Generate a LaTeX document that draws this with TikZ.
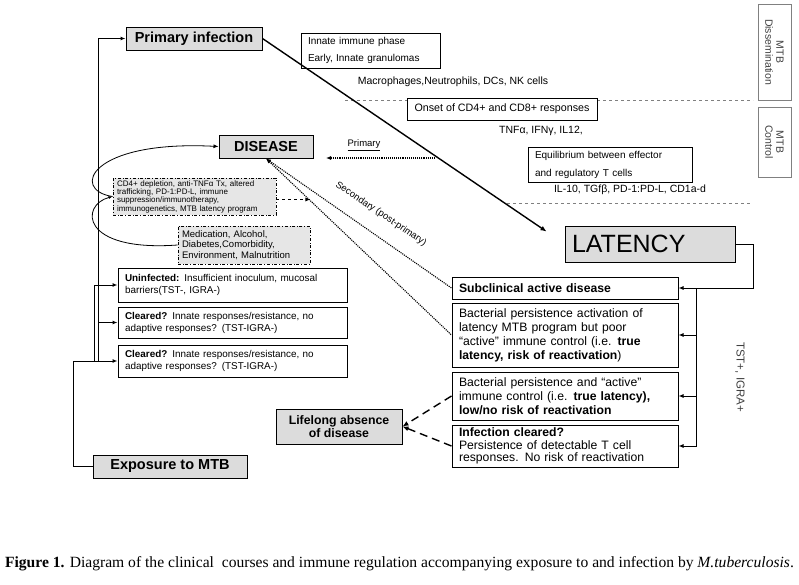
\documentclass[tikz,border=0pt]{standalone}
\usepackage{fontspec}
\setmainfont{Liberation Sans}
\newfontfamily\capfont{Liberation Serif}
\usetikzlibrary{arrows.meta,calc}
\definecolor{boxgray}{HTML}{DCDCDC}
\definecolor{factgray}{HTML}{E6E6E6}
\begin{document}
\begin{tikzpicture}[x=1pt,y=-1pt,
  gbox/.style={draw,line width=1pt,fill=boxgray,inner sep=0pt,font=\bfseries\fontsize{14.5}{16}\selectfont},
  wbox/.style={draw,line width=1pt,fill=white,align=left,inner xsep=7pt,inner ysep=0pt},
  lbox/.style={wbox,text width=215pt,minimum width=229pt,font=\fontsize{9.9}{12}\selectfont},
  rbox/.style={wbox,text width=212pt,minimum width=226pt,font=\fontsize{12.2}{14}\selectfont},
  fbox/.style={draw,dash dot,line width=.9pt,fill=factgray,align=left,inner xsep=4pt,inner ysep=0pt},
  vbox/.style={draw=gray,line width=.8pt,rotate=-90,align=center,inner sep=0pt,minimum height=33pt,
    text=black!75,font=\fontsize{10.5}{11}\selectfont},
  sepline/.style={gray,dashed,line width=.6pt},
  dotline/.style={densely dotted,line width=1.1pt},
  link/.style={line width=1pt,-{Latex[length=5pt,width=4pt]}},
  plain/.style={inner sep=0pt,font=\fontsize{10.5}{12}\selectfont}]
\useasboundingbox (0,0) rectangle (799,584);

% separators between the phases
\draw[sepline] (345,100) -- (753,100);
\draw[sepline] (507,203) -- (752,203);

% immune phases
\node[wbox,text width=125pt,minimum height=35pt,font=\fontsize{10}{17}\selectfont] (innate) at (370.5,50.5)
  {Innate immune phase\\Early, Innate granulomas};
\node[plain] (macro) at (453,82) {Macrophages,Neutrophils, DCs, NK cells};
\node[wbox,minimum width=190pt,minimum height=22pt,font=\fontsize{10.7}{12}\selectfont] (onset) at (502,109)
  {Onset of CD4+ and CD8+ responses};
\node[plain] (tnf) at (541,131) {TNFα, IFNγ, IL12,};
\node[wbox,text width=150pt,minimum height=35pt,font=\fontsize{10}{18}\selectfont] (equil) at (610,164.5)
  {Equilibrium between effector\\and regulatory T cells};
\node[plain] (il) at (630,190) {IL-10, TGfβ, PD-1:PD-L, CD1a-d};
\node[vbox,minimum width=96pt] (dissem) at (774.5,52) {MTB\\Dissemination};
\node[vbox,minimum width=70pt] (control) at (774.5,142) {MTB\\Control};

% main states
\node[gbox,minimum width=136pt,minimum height=23pt] (prim) at (194,38.5) {Primary infection};
\node[gbox,minimum width=94pt,minimum height=23pt] (dis) at (266,146.5) {DISEASE};
\node[gbox,minimum width=154pt,minimum height=23pt] (expo) at (170,466.5) {Exposure to MTB};
\node[gbox,text width=156pt,inner xsep=7pt,minimum height=36pt,align=left,font=\fontsize{25}{27}\selectfont] (lat) at (650,244) {LATENCY};
\node[gbox,minimum width=126pt,minimum height=35pt,align=center,font=\bfseries\fontsize{12.3}{13.5}\selectfont] (life) at (339,426.5)
  {Lifelong absence\\of disease};

% risk factors
\node[fbox,text width=155pt,minimum height=37pt,font=\fontsize{8}{8.3}\selectfont] (cd4) at (194.5,196.5)
  {CD4+ depletion, anti-TNFα Tx, altered\\trafficking, PD-1:PD-L, immune\\suppression/immunotherapy,\\immunogenetics, MTB latency program};
\node[fbox,text width=124pt,minimum height=38pt,font=\fontsize{9.5}{10.5}\selectfont] (med) at (244,245)
  {Medication, Alcohol,\\Diabetes,Comorbidity,\\Environment, Malnutrition};

% outcomes after exposure
\node[lbox,minimum height=34pt] (unin) at (232.5,285)
  {\textbf{Uninfected:} Insufficient inoculum, mucosal\\barriers(TST-, IGRA-)};
\node[lbox,minimum height=31pt] (cl1) at (232.5,322.5)
  {\textbf{Cleared?} Innate responses/resistance, no\\adaptive responses? (TST-IGRA-)};
\node[lbox,minimum height=32pt] (cl2) at (232.5,361)
  {\textbf{Cleared?} Innate responses/resistance, no\\adaptive responses? (TST-IGRA-)};

% outcomes of latency
\node[rbox,minimum height=22pt] (sub) at (565,288) {\textbf{Subclinical active disease}};
\node[rbox,minimum height=64pt] (bac1) at (565,335)
  {Bacterial persistence activation of\\latency MTB program but poor\\“active” immune control (i.e. \textbf{true}\\\textbf{latency, risk of reactivation})};
\node[rbox,minimum height=48pt] (bac2) at (565,396)
  {Bacterial persistence and “active”\\immune control (i.e. \textbf{true latency),}\\\textbf{low/no risk of reactivation}};
\node[rbox,minimum height=42pt,font=\fontsize{12.2}{12.3}\selectfont] (clr) at (565,446)
  {\textbf{Infection cleared?}\\Persistence of detectable T cell\\responses. No risk of reactivation};
\node[plain,rotate=-90,text=black!75,font=\fontsize{11.5}{13}\selectfont] (tst) at (740,377) {TST+, IGRA+};

% primary infection to latency
\coordinate (latin) at ($(lat.north west)+(-18,6)$);
\draw[line width=1.4pt,-{Latex[length=6pt,width=5pt]}] (prim.east) -- (latin);

% routes to disease
\coordinate (prA) at (435,158);
\coordinate (prB) at (326,158);
\draw[dotline,-{Latex[length=5pt,width=4pt]}] (prA) -- (prB);
\node[plain,font=\fontsize{9.5}{11}\selectfont] (primlab) at (364,145) {\underline{Primary}};
\draw[dotline,{Latex[length=5pt,width=4pt]}-] (dis.south) -- (sub.west);
\draw[dotline,{Latex[length=5pt,width=4pt]}-] (dis.south) -- (bac1.west);
\node[plain,rotate=-34,font=\fontsize{9.5}{11}\selectfont] (seclab) at (381,214) {Secondary (post-primary)};
\coordinate (cd4tip) at ($(cd4.east)+(34,3)$);
\draw[dashed,line width=.9pt,-{Latex[length=5pt,width=4pt]}] (cd4.east |- cd4tip) -- (cd4tip);
\draw[line width=.8pt,-{Latex[length=4pt,width=3pt]}] (med.west) .. controls (80,252) and (80,205) .. (cd4.west);
\draw[line width=.8pt,-{Latex[length=5pt,width=4pt]}] (cd4.west) .. controls (70,190) and (90,140) .. (dis.west);

% exposure branches
\coordinate (jB) at ($(cl2.west)+(-23,0)$);
\coordinate (jC) at ($(cl2.west)+(-19,0)$);
\draw[link] (expo.west) -- ++(-19,0) |- (cl2.west);
\draw[link] (jB) |- (unin.west);
\draw[link] (jC) |- (prim.west);
\draw[link] (jC |- cl1.west) -- (cl1.west);

% latency branches
\coordinate (jR) at ($(sub.east)+(18,0)$);
\draw[link] (lat.east) -- ++(18,0) |- (sub.east);
\draw[link] (jR) |- (clr.east);
\draw[link] (jR |- bac1.east) -- (bac1.east);
\draw[link] (jR |- bac2.east) -- (bac2.east);

% towards lifelong absence
\draw[line width=1.4pt,dash pattern=on 8pt off 5pt,-{Latex[length=6pt,width=5pt]}] (bac2.west) -- (life.east);
\draw[line width=1.4pt,dash pattern=on 8pt off 5pt,-{Latex[length=6pt,width=5pt]}] (clr.west) -- (life.east);

% caption
\node[inner sep=0pt,font=\capfont\fontsize{15.6}{17}\selectfont] (cap) at (399.5,564)
  {\textbf{Figure 1.} Diagram of the clinical\ \ courses and immune regulation accompanying exposure to and infection by \textit{M.tuberculosis}.};
\end{tikzpicture}
\end{document}
